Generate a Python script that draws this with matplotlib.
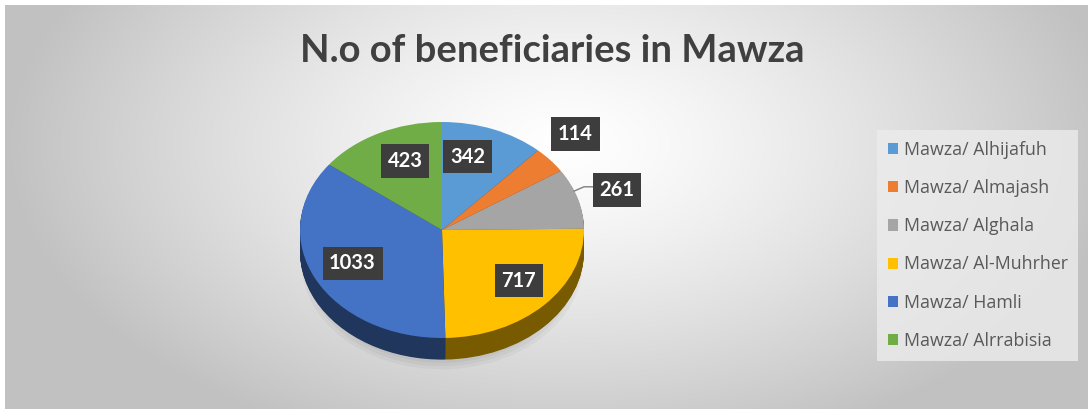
import numpy as np
import matplotlib
matplotlib.use('Agg')
import matplotlib.pyplot as plt
from matplotlib.patches import Patch
from matplotlib.colors import to_rgb

# data
names = ['Mawza/ Alhijafuh', 'Mawza/ Almajash', 'Mawza/ Alghala',
         'Mawza/ Al-Muhrher', 'Mawza/ Hamli', 'Mawza/ Alrrabisia']
counts = [342, 114, 261, 717, 1033, 423]
colors = ['#5b9bd5', '#ed7d31', '#a5a5a5', '#ffc000', '#4472c4', '#70ad47']
# label positions (pie data coords)
label_pos = [(0.18, 0.68), (0.94, 0.89), (1.23, 0.37),
             (0.54, -0.47), (-0.63, -0.31), (-0.26, 0.64)]

W, H = 1088, 409
fig = plt.figure(figsize=(W / 100, H / 100), dpi=100)
fig.patch.set_facecolor('white')

# background gradient
bg = fig.add_axes([5 / W, 0, (W - 5) / W, (H - 5) / H])
yy, xx = np.mgrid[0:H - 5, 0:W - 5]
d = np.sqrt(((xx - 560) / 560.0) ** 2 + ((yy - 140) / 320.0) ** 2)
g = (255 - 62 * np.clip(d, 0, 1) ** 1.3) / 255.0
bg.imshow(np.dstack([g, g, g]), aspect='auto', interpolation='bilinear')
bg.axis('off')

fig.text(552 / W, 1 - 51 / H, 'N.o of beneficiaries in Mawza',
         ha='center', va='center', fontsize=27.5, fontweight='bold',
         color='#404040', family='Lato')

# pie axes: center at (442, 230) px, rx=142, ry=108
cx, cy, rx, ry = 442, 230, 142, 108
x0, x1, y0, y1 = -1.6, 1.6, -1.6, 1.4
ax = fig.add_axes([(cx + x0 * rx) / W, (H - (cy - y0 * ry)) / H,
                   (x1 - x0) * rx / W, (y1 - y0) * ry / H])

def shade(c, f):
    r, gg, b = to_rgb(c)
    return (r * f, gg * f, b * f)

depth = 0.2
# soft shadow under the pie
for k in range(4):
    ax.pie([1], colors=['black'], radius=0.9 + 0.03 * k, center=(0, -depth - 0.1),
           startangle=90, wedgeprops=dict(linewidth=0, alpha=0.035))
# side of the 3d pie
for off in np.linspace(depth, 0.01, 30):
    ax.pie(counts, colors=[shade(c, 0.47) for c in colors], startangle=90,
           counterclock=False, center=(0, -off), wedgeprops=dict(linewidth=0))
ax.pie(counts, colors=colors, startangle=90, counterclock=False,
       wedgeprops=dict(linewidth=0))
ax.set_aspect('auto')
ax.set_xlim(x0, x1)
ax.set_ylim(y0, y1)
ax.axis('off')

# leader line for the grey slice
ax.plot([0.93, 1.0, 1.08], [0.36, 0.4, 0.4], color='#7f7f7f', lw=1)

for v, (lx, ly) in zip(counts, label_pos):
    ax.text(lx, ly, str(v), ha='center', va='center', color='white',
            fontsize=14.5, fontweight='bold', family='Lato',
            bbox=dict(boxstyle='square,pad=0.33', facecolor='#3d3d3d',
                      edgecolor='none'))

handles = [Patch(facecolor=c, edgecolor='none') for c in colors]
leg = fig.legend(handles, names, loc='upper left',
                 bbox_to_anchor=(877 / W, 1 - 130 / H), frameon=True,
                 fancybox=False, handlelength=0.6, handleheight=0.6,
                 handletextpad=0.3, labelspacing=1.14, borderpad=0.6,
                 borderaxespad=0,
                 prop=dict(family='Open Sans', size=12.8))
leg.get_frame().set_facecolor('#ececec')
leg.get_frame().set_edgecolor('none')
for t in leg.get_texts():
    t.set_color('#595959')

fig.savefig('out.png', dpi=100)
